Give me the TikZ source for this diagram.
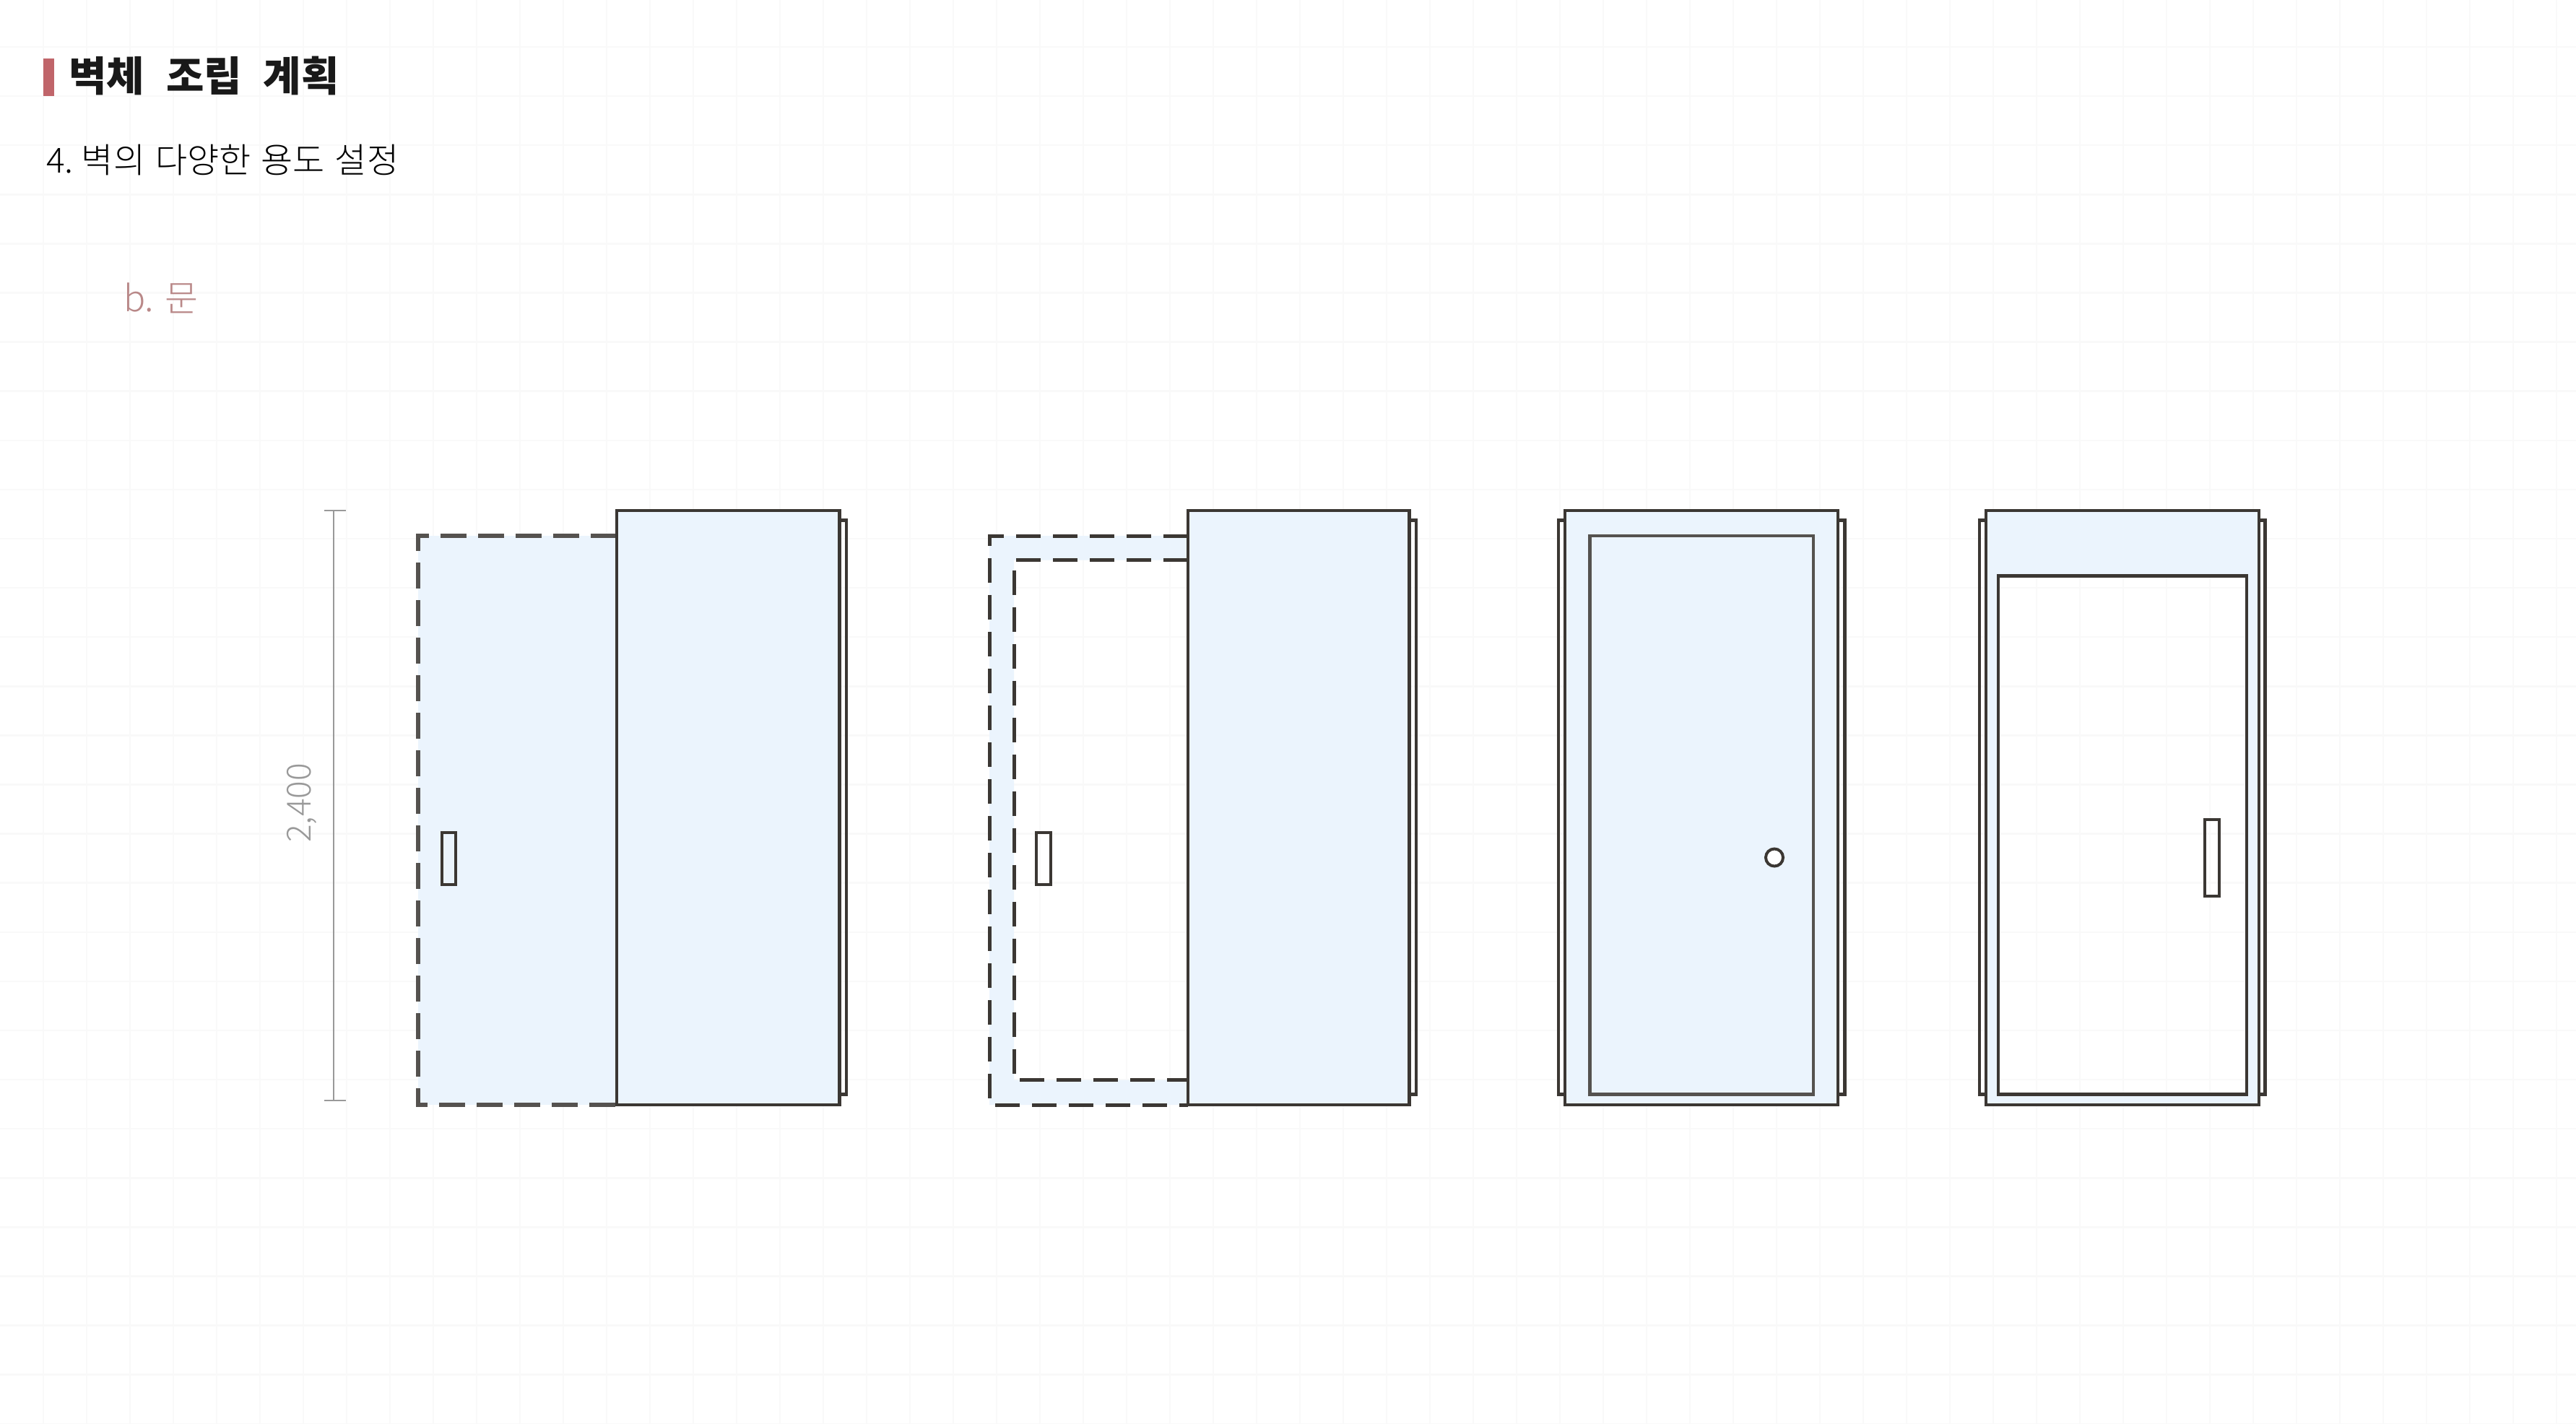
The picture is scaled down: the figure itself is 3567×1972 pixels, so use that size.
\documentclass[tikz,border=0pt]{standalone}
\usepackage{fontspec}
\setmainfont{Noto Sans CJK KR}
\newfontfamily\thinface{Noto Sans CJK KR Light}
\newcommand{\titlefont}{\fontsize{57}{60}\selectfont\bfseries\spaceskip 30pt\relax}
\newcommand{\subtitlefont}{\thinface\fontsize{48}{60}\selectfont\spaceskip 14pt\relax}
\newcommand{\sublabelfont}{\thinface\fontsize{50}{60}\selectfont}
\newcommand{\dimlabelfont}{\thinface\fontsize{46}{50}\selectfont}
\definecolor{paneblue}{HTML}{EBF4FD}
\definecolor{inkline}{HTML}{3B3733}
\definecolor{dashink}{HTML}{55524F}
\definecolor{gridc}{HTML}{F9F9F9}
\definecolor{barred}{HTML}{C0656A}
\definecolor{subred}{HTML}{B98888}
\definecolor{dimgray}{HTML}{999999}
\tikzset{
  x=1pt,y=-1pt,
  gridline/.style={draw=gridc,line width=2.5pt},
  panel/.style={draw=inkline,line width=4.5pt,fill=paneblue,line join=miter},
  outline/.style={draw=inkline,line width=4.5pt,line join=miter},
  pane/.style={fill=paneblue,draw=none,even odd rule},
  dashA/.style={draw=dashink,line width=5.5pt,dash pattern=on 36pt off 16pt},
  dashB/.style={draw=inkline,line width=5pt,dash pattern=on 34pt off 17pt},
  dimline/.style={draw=dimgray,line width=2pt},
  title/.style={anchor=west,inner sep=0pt,text=black!90,font=\titlefont},
  subtitle/.style={anchor=west,inner sep=0pt,text=black,font=\subtitlefont},
  sublabel/.style={anchor=west,inner sep=0pt,text=subred,font=\sublabelfont},
  dimlabel/.style={inner sep=0pt,text=dimgray,rotate=90,font=\dimlabelfont}
}
\begin{document}
\begin{tikzpicture}
\useasboundingbox (0,0) rectangle (3567,1972);
\fill[white] (0,0) rectangle (3567,1972);
% grid
\foreach \gx in {60,120,...,3540} \draw[gridline] (\gx,0) -- (\gx,1972);
\foreach \gy in {0,...,28} \draw[gridline] (0,65+68.1*\gy) -- (3567,65+68.1*\gy);
% heading
\fill[barred] (60,81) rectangle (75,133);
\node[title] (t1) at (95,105) {벽체 조립 계획};
\node[subtitle] (t2) at (64,222) {4.\hspace{11pt}벽의 다양한 용도 설정};
\node[sublabel] (t3) at (171,413) {b. 문};
% dimension
\draw[dimline] (461.5,707) -- (461.5,1524);
\draw[dimline] (449,707) -- (479,707);
\draw[dimline] (449,1524) -- (479,1524);
\node[dimlabel] (d1) at (418,1112) {2,400};
% door 1
\fill[pane] (579,742) rectangle (854,1530);
\draw[dashA] (854,742) -- (579,742) -- (579,1530) -- (854,1530);
\draw[outline] (1162.5,720.5) -- (1172,720.5) -- (1172,1515.5) -- (1162.5,1515.5);
\draw[panel] (854,707) rectangle (1162.5,1530);
\draw[outline,line width=4pt] (611.5,1153) rectangle (630.5,1224.5);
% door 2
\fill[pane] (1370,742) rectangle (1645,1530) (1404,775.5) rectangle (1645,1495.5);
\draw[dashB] (1645,742) -- (1370,742) -- (1370,1530) -- (1645,1530);
\draw[dashB] (1645,775.5) -- (1404,775.5) -- (1404,1495.5) -- (1645,1495.5);
\draw[outline] (1951.5,720.5) -- (1961,720.5) -- (1961,1515.5) -- (1951.5,1515.5);
\draw[panel] (1645,707) rectangle (1951.5,1530);
\draw[outline,line width=4pt] (1435,1153) rectangle (1454.5,1224.5);
% door 3
\draw[outline] (2167,720.5) -- (2158,720.5) -- (2158,1515.5) -- (2167,1515.5);
\draw[outline] (2545,720.5) -- (2554.5,720.5) -- (2554.5,1515.5) -- (2545,1515.5);
\draw[panel] (2167,707) rectangle (2545,1530);
\draw[outline,draw=dashink] (2201.5,742) rectangle (2511,1515.5);
\draw[outline,fill=white,line width=4pt] (2457,1187.5) circle (12);
% door 4
\draw[outline] (2750,720.5) -- (2741,720.5) -- (2741,1515.5) -- (2750,1515.5);
\draw[outline] (3128,720.5) -- (3136.5,720.5) -- (3136.5,1515.5) -- (3128,1515.5);
\fill[pane] (2750,707) rectangle (3128,1530) (2767,797.5) rectangle (3111,1515.5);
\draw[outline] (2750,707) rectangle (3128,1530);
\draw[outline] (2767,797.5) rectangle (3111,1515.5);
\draw[outline,line width=4pt] (3053,1135) rectangle (3073,1240.5);
\end{tikzpicture}
\end{document}
